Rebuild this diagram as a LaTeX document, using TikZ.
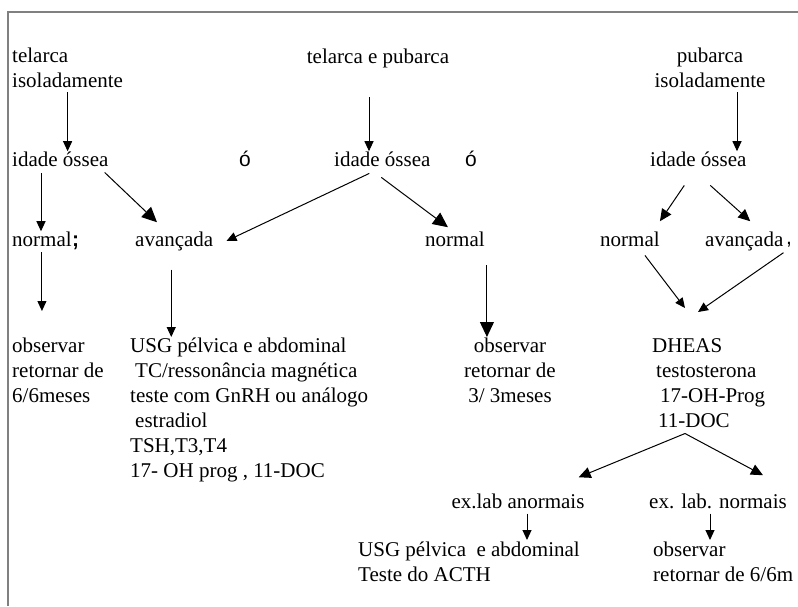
\documentclass[tikz,border=0pt]{standalone}
\usepackage{fontspec}
\setmainfont{Liberation Serif}
\newfontfamily\strayfont{Liberation Sans}
\usetikzlibrary{arrows.meta}

\begin{document}
\begin{tikzpicture}[
  x=1pt, y=-1pt,
  txt/.style={inner sep=0pt, align=left, font=\fontsize{21}{25}\selectfont},
  stray/.style={inner sep=0pt, font=\strayfont\fontsize{21}{25}\selectfont},
  arr/.style={line width=1pt, -{Triangle[width=9pt,length=10pt]}},
  bigarr/.style={line width=1pt, -{Triangle[width=14pt,length=15pt]}},
  midarr/.style={line width=1pt, -{Triangle[width=11pt,length=12pt]}},
  frame/.style={draw=gray, line width=2pt}
]
\useasboundingbox (0,0) rectangle (798,606);
\draw[frame] (8,606) -- (8,12) -- (798,12);

\node[txt, anchor=north west] (telIso) at (12,48)  {telarca\\isoladamente};
\node[txt, anchor=base]       (telPub) at (378,63) {telarca e pubarca};
\node[txt, align=center, anchor=north] (pubIso) at (710,48) {pubarca\\isoladamente};

\node[txt, anchor=base west] (io1) at (12,166)  {idade óssea};
\node[stray, anchor=base]    (oA)  at (245,166) {ó};
\node[txt, anchor=base west] (io2) at (334,166) {idade óssea};
\node[stray, anchor=base]    (oB)  at (471,166) {ó};
\node[txt, anchor=base west] (io3) at (650,166) {idade óssea};

\node[txt, anchor=base west] (nor1) at (12,246)  {normal};
\node[stray, anchor=base west, font=\strayfont\bfseries\fontsize{21}{25}\selectfont] (semi) at (72,246) {;};
\node[txt, anchor=base west] (ava1) at (135,246) {avançada};
\node[txt, anchor=base west] (nor2) at (425,246) {normal};
\node[txt, anchor=base west] (nor3) at (600,246) {normal};
\node[txt, anchor=base west] (ava3) at (705,246) {avançada};
\node[stray, anchor=base west] (comma) at (786,244) {,};

\node[txt, anchor=north west] (obs1) at (12,338) {observar\\retornar de\\6/6meses};
\node[txt, anchor=north west] (usg1) at (130,338)
  {USG pélvica e abdominal\\\hspace*{5pt}TC/ressonância magnética\\teste com GnRH ou análogo\\\hspace*{5pt}estradiol\\TSH,T3,T4\\17- OH prog , 11-DOC};
\node[txt, align=center, anchor=north] (obs2) at (510,338) {observar\\retornar de\\3/ 3meses};
\node[txt, anchor=north west] (dheas) at (652,338)
  {DHEAS\\\hspace*{4pt}testosterona\\\hspace*{8pt}17-OH-Prog\\\hspace*{6pt}11-DOC};

\node[txt, anchor=base] (exA) at (518,508) {ex.lab anormais};
\node[txt, anchor=base] (exN) at (718,508) {ex. lab. normais};
\node[txt, anchor=north west] (usg2) at (358,542) {USG pélvica \ e abdominal\\Teste do ACTH};
\node[txt, anchor=north west] (obs3) at (653,542) {observar\\retornar de 6/6m};

\draw[arr] ([yshift=-4pt]telIso.south) -- (telIso.south |- io1.north);
\draw[arr] ([shift={(-9pt,-34pt)}]telPub.base) -- ([xshift=-9pt]telPub.south |- io2.north);
\draw[arr] ([shift={(27pt,-4pt)}]pubIso.south) -- ([xshift=27pt]pubIso.south |- io3.north);

\draw[arr] ([shift={(29pt,-7pt)}]io1.south west) -- ([xshift=29pt]io1.south west |- nor1.north);
\draw[bigarr] ([shift={(-4pt,-6pt)}]io1.south east) -- ([shift={(22pt,9pt)}]ava1.north west);
\draw[arr] ([shift={(-13pt,-7pt)}]io2.south) -- ([xshift=13pt]ava1.east);
\draw[bigarr] ([shift={(-1pt,-11pt)}]io2.south) -- ([shift={(-7pt,4pt)}]nor2.north);
\draw[midarr] ([shift={(-14pt,-19pt)}]io3.south) -- ([shift={(30pt,10pt)}]nor3.north);
\draw[midarr] ([shift={(12pt,-19pt)}]io3.south) -- ([shift={(6pt,10pt)}]ava3.north);

\draw[arr, shorten >=33pt] ([yshift=-6pt]nor1.south) -- ([yshift=-6pt]nor1.south |- obs1.north);
\draw[arr, shorten >=20pt] ([shift={(-3pt,-19pt)}]ava1.south) -- ([shift={(-3pt,-19pt)}]ava1.south |- usg1.north);
\draw[bigarr, shorten >=20pt] ([shift={(32pt,-19pt)}]nor2.south) -- ([shift={(32pt,-19pt)}]nor2.south |- obs2.north);
\draw[arr] ([shift={(15pt,-9pt)}]nor3.south) -- ([shift={(33pt,30pt)}]dheas.north west);
\draw[arr] ([yshift=-2pt]ava3.south east) -- ([shift={(46pt,26pt)}]dheas.north west);

\draw[midarr] ([shift={(33pt,-6pt)}]dheas.south west) -- ([shift={(-6pt,16pt)}]exA.north east);
\draw[midarr] ([shift={(33pt,-6pt)}]dheas.south west) -- ([shift={(45pt,18pt)}]exN.north);
\draw[arr, shorten >=2pt] ([shift={(9pt,-5pt)}]exA.south) -- ([xshift=9pt]exA.south |- usg2.north);
\draw[arr, shorten >=2pt] ([shift={(-8pt,-5pt)}]exN.south) -- ([xshift=-8pt]exN.south |- obs3.north);
\end{tikzpicture}
\end{document}
